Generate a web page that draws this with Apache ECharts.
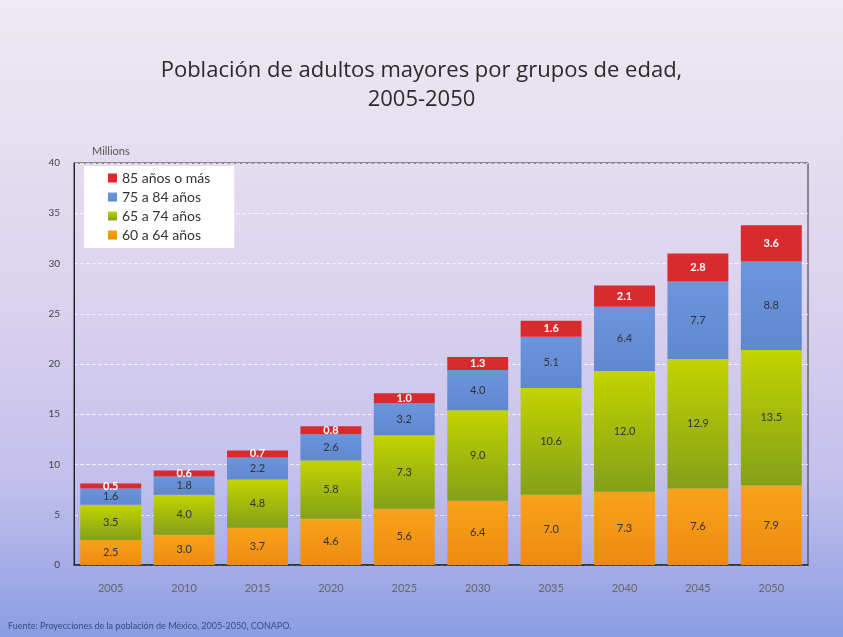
<!DOCTYPE html>
<html>
<head>
<meta charset="utf-8">
<script src="https://cdn.jsdelivr.net/npm/echarts@6/dist/echarts.min.js"></script>
<style>
  html, body { margin: 0; padding: 0; }
  #chart { width: 843px; height: 637px; }
</style>
</head>
<body>
<div id="chart"></div>
<script>
// datos (millones)
const years = ['2005', '2010', '2015', '2020', '2025', '2030', '2035', '2040', '2045', '2050'];
const g60a64 = [2.5, 3.0, 3.7, 4.6, 5.6, 6.4, 7.0, 7.3, 7.6, 7.9];
const g65a74 = [3.5, 4.0, 4.8, 5.8, 7.3, 9.0, 10.6, 12.0, 12.9, 13.5];
const g75a84 = [1.6, 1.8, 2.2, 2.6, 3.2, 4.0, 5.1, 6.4, 7.7, 8.8];
const g85mas = [0.5, 0.6, 0.7, 0.8, 1.0, 1.3, 1.6, 2.1, 2.8, 3.6];
const yTicks = [0, 5, 10, 15, 20, 25, 30, 35, 40];

const font = 'Lato, "Open Sans", sans-serif';

function grad(top, bottom) {
    return new echarts.graphic.LinearGradient(0, 0, 0, 1, [
        { offset: 0, color: top },
        { offset: 1, color: bottom }
    ]);
}

function serie(name, data, color, labelColor, bold) {
    return {
        name: name,
        type: 'bar',
        stack: 'total',
        barCategoryGap: '17%',
        data: data,
        itemStyle: { color: color },
        label: {
            show: true,
            position: 'inside',
            color: labelColor,
            fontFamily: font,
            fontSize: 11,
            fontWeight: bold ? 'bold' : 'normal',
            formatter: (p) => p.value.toFixed(1)
        }
    };
}

const chart = echarts.init(document.getElementById('chart'));
chart.setOption({
    backgroundColor: new echarts.graphic.LinearGradient(0, 0, 0, 1, [
        { offset: 0, color: '#eeeaf2' },
        { offset: 0.45, color: '#dcd3ee' },
        { offset: 0.75, color: '#c4c0ec' },
        { offset: 1, color: '#8a9de2' }
    ]),
    animation: false,
    title: {
        text: 'Población de adultos mayores por grupos de edad,\n2005-2050',
        left: 'center',
        top: 51,
        textStyle: {
            fontFamily: '"Open Sans", Lato, sans-serif',
            fontSize: 22,
            fontWeight: 'normal',
            color: '#2a2a2a',
            lineHeight: 29
        }
    },
    legend: {
        data: ['85 años o más', '75 a 84 años', '65 a 74 años', '60 a 64 años'],
        orient: 'vertical',
        left: 84,
        top: 166,
        icon: 'rect',
        itemWidth: 9,
        itemHeight: 9,
        itemGap: 5,
        padding: [5, 24, 6, 24],
        backgroundColor: '#ffffff',
        textStyle: { fontFamily: font, fontSize: 14, color: '#333' }
    },
    grid: { left: 74, right: 35, top: 163, bottom: 72, show: true, borderColor: '#333', borderWidth: 1 },
    xAxis: {
        type: 'category',
        data: years,
        axisLine: { lineStyle: { color: '#222', width: 1.5 } },
        axisTick: { show: false },
        axisLabel: { color: '#666', fontFamily: font, fontSize: 11, margin: 18 }
    },
    yAxis: {
        type: 'value',
        min: yTicks[0],
        max: yTicks[yTicks.length - 1],
        interval: 5,
        name: 'Millions',
        nameLocation: 'end',
        nameGap: 6,
        nameTextStyle: { color: '#555', fontFamily: font, fontSize: 11, align: 'left', padding: [0, 0, 0, 18] },
        axisLine: { show: true, lineStyle: { color: '#222' } },
        axisTick: { show: false },
        axisLabel: { color: '#444', fontFamily: font, fontSize: 10, margin: 14 },
        splitLine: { lineStyle: { color: 'rgba(255,255,255,0.7)', type: 'dashed' } }
    },
    series: [
        serie('60 a 64 años', g60a64, grad('#f9a21a', '#ee8a12'), '#333', false),
        serie('65 a 74 años', g65a74, grad('#c2d400', '#84a018'), '#333', false),
        serie('75 a 84 años', g75a84, grad('#6d95dc', '#5f88d2'), '#333', false),
        serie('85 años o más', g85mas, '#d72b2e', '#ffffff', true)
    ],
    graphic: [{
        type: 'text',
        left: 8,
        top: 622,
        style: {
            text: 'Fuente: Proyecciones de la población de México, 2005-2050, CONAPO.',
            fill: '#3a4a80',
            font: '9px ' + font
        }
    }]
});
</script>
</body>
</html>
